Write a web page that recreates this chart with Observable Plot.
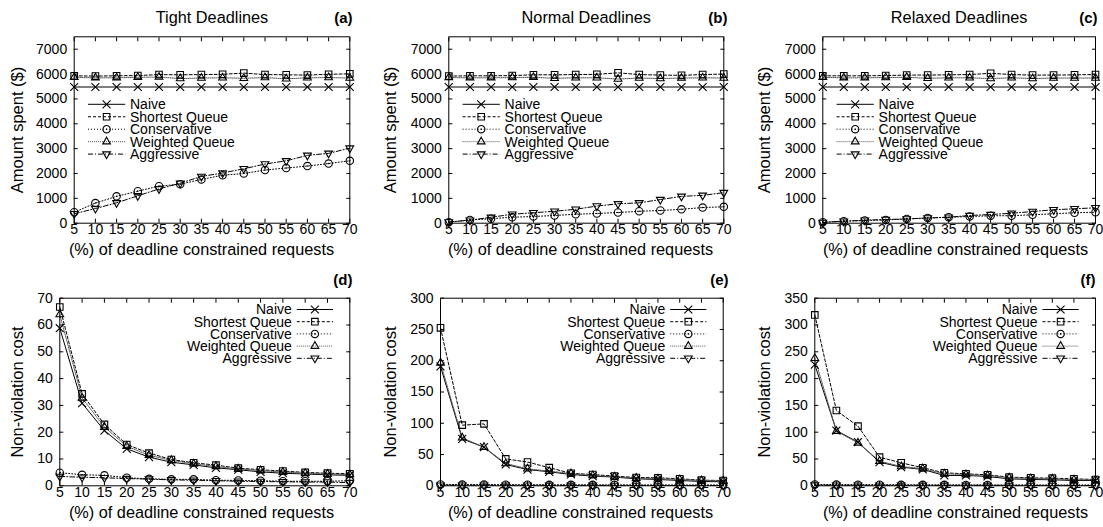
<!DOCTYPE html>
<html><head><meta charset="utf-8">
<script src="https://cdn.jsdelivr.net/npm/d3@7"></script>
<script src="https://cdn.jsdelivr.net/npm/@observablehq/plot@0.6"></script>
<style>
body{margin:0;background:#fff;}
#chart{position:relative;width:1103px;height:527px;overflow:hidden;font-family:"Liberation Sans",Arial,Helvetica,sans-serif;}
#chart > div{position:absolute;}
</style></head><body><div id="chart"></div>
<script>
// ---------- data ----------
const pct = [5,10,15,20,25,30,35,40,45,50,55,60,65,70];
const seriesNames = ["Naive","Shortest Queue","Conservative","Weighted Queue","Aggressive"];
const amountTicks = [0,1000,2000,3000,4000,5000,6000,7000];
const tightCostTicks = [0,10,20,30,40,50,60,70];
const normalCostTicks = [0,50,100,150,200,250,300];
const relaxedCostTicks = [0,50,100,150,200,250,300,350];

// Amount spent ($)
const tightNaive   = [5480,5480,5480,5480,5480,5480,5480,5480,5480,5480,5480,5480,5480,5480];
const tightSQ      = [5930,5920,5930,5940,5980,5970,5980,5990,6040,5980,5970,5960,5990,6010];
const tightCons    = [440,810,1080,1290,1490,1570,1760,1930,2000,2140,2220,2300,2400,2510];
const tightWQ      = [5870,5850,5850,5870,5880,5820,5840,5850,5830,5860,5810,5850,5860,5840];
const tightAgg     = [380,590,820,1100,1380,1610,1880,2020,2190,2380,2510,2730,2810,3020];

const normalNaive  = [5480,5480,5480,5480,5480,5480,5480,5480,5480,5480,5480,5480,5480,5480];
const normalSQ     = [5920,5930,5930,5940,5970,5970,5980,5990,6050,5980,5960,5950,5980,6000];
const normalCons   = [40,130,180,240,270,310,360,390,430,480,510,560,630,660];
const normalWQ     = [5860,5850,5850,5860,5870,5830,5850,5850,5800,5840,5820,5840,5850,5840];
const normalAgg    = [50,120,240,360,420,480,560,690,780,820,950,1080,1120,1230];

const relaxedNaive = [5480,5480,5480,5480,5480,5480,5480,5480,5480,5480,5480,5480,5480,5480];
const relaxedSQ    = [5930,5930,5930,5940,5960,5960,5970,5980,6030,5980,5960,5960,5970,5980];
const relaxedCons  = [40,80,110,130,170,210,240,270,300,300,340,380,420,440];
const relaxedWQ    = [5870,5850,5850,5860,5870,5830,5850,5850,5820,5850,5820,5840,5840,5840];
const relaxedAgg   = [30,80,120,150,170,210,240,310,350,400,470,540,580,620];

// Non-violation cost
const tightNvNaive   = [58.8,30.8,20.6,13.8,10.7,8.8,7.8,6.7,6.0,5.2,4.7,4.4,4.1,3.9];
const tightNvSQ      = [66.7,34.3,22.9,15.4,12.2,9.8,8.6,7.7,6.6,6.0,5.5,5.0,4.7,4.5];
const tightNvCons    = [4.9,4.1,3.9,3.0,2.6,2.4,2.4,2.1,2.0,1.9,1.7,1.7,1.7,1.9];
const tightNvWQ      = [63.9,32.8,21.9,14.8,11.4,9.5,8.2,7.2,6.3,5.7,5.1,4.7,4.4,4.2];
const tightNvAgg     = [3.5,3.2,3.0,2.7,2.5,2.2,2.1,1.9,1.7,1.6,1.5,1.4,1.4,1.2];

const normalNvNaive  = [190.8,75,61.8,34.1,26,22.4,18.1,15.5,13.9,11.2,10.1,8.5,6.9,6.4];
const normalNvSQ     = [252.6,97,99,43,38,29,20,18,15.5,13.3,12.8,11.2,9,8.5];
const normalNvCons   = [2.2,2.0,1.9,1.8,1.7,1.6,1.6,1.5,1.5,1.4,1.4,1.3,1.3,1.3];
const normalNvWQ     = [196.6,76.7,61.8,35.7,27.2,23.4,19.7,16.5,14.4,12.3,11.2,10.1,8.5,8.0];
const normalNvAgg    = [1.0,0.9,0.9,0.8,0.8,0.7,0.7,0.7,0.6,0.6,0.6,0.5,0.5,0.5];

const relaxedNvNaive = [226,103,81.4,44.1,34.8,30.5,19.3,19.3,17.4,13,11.8,11.2,9.9,9.9];
const relaxedNvSQ    = [318.8,140.5,111.3,53.4,42.9,33.6,24.2,22.4,20.5,16.2,14.9,14.3,13,11.8];
const relaxedNvCons  = [2.4,2.2,2.1,2.0,1.9,1.8,1.8,1.7,1.7,1.6,1.6,1.5,1.5,1.5];
const relaxedNvWQ    = [238,102,80,46,36,32,22.4,21,19.3,15,13.7,13,11.2,11.2];
const relaxedNvAgg   = [1.2,1.1,1.0,1.0,0.9,0.9,0.8,0.8,0.8,0.7,0.7,0.7,0.6,0.6];

// ---------- styles ----------
const invTriangle = {
  draw(context, size) {
    const s = Math.sqrt(size) * 0.6824, t = s / 2, u = s * Math.sqrt(3) / 2;
    context.moveTo(0, s); context.lineTo(u, -t); context.lineTo(-u, -t); context.closePath();
  }
};
const seriesSymbols = ["times","square","circle","triangle2", invTriangle];
const d3Symbols = [d3.symbolTimes, d3.symbolSquare, d3.symbolCircle, d3.symbolTriangle2, invTriangle];
const seriesDash = ["none","3,2","1,2","1,1","5,2,1,2"];
const seriesStroke = ["#000","#000","#000","#555","#000"];
const markerR = 3.7;

const panels = [
  {title:"Tight Deadlines", tag:"(a)", yLabel:"Amount spent ($)", series:[tightNaive,tightSQ,tightCons,tightWQ,tightAgg],
   yDomain:[0,7500], yTicks:amountTicks, col:[0,370], row:[0,262], frame:[73.7,36.3,349.3,222.7], yLabelX:17, xLabelX:201, tagX:352, legend:"left"},
  {title:"Normal Deadlines", tag:"(b)", yLabel:"Amount spent ($)", series:[normalNaive,normalSQ,normalCons,normalWQ,normalAgg],
   yDomain:[0,7500], yTicks:amountTicks, col:[370,370], row:[0,262], frame:[448.3,36.3,723.3,222.7], yLabelX:390.5, xLabelX:580, tagX:727, legend:"left"},
  {title:"Relaxed Deadlines", tag:"(c)", yLabel:"Amount spent ($)", series:[relaxedNaive,relaxedSQ,relaxedCons,relaxedWQ,relaxedAgg],
   yDomain:[0,7500], yTicks:amountTicks, col:[740,363], row:[0,262], frame:[822.3,36.3,1095,222.7], yLabelX:764.5, xLabelX:955, tagX:1097, legend:"left"},
  {title:null, tag:"(d)", yLabel:"Non-violation cost", series:[tightNvNaive,tightNvSQ,tightNvCons,tightNvWQ,tightNvAgg],
   yDomain:[0,70], yTicks:tightCostTicks, col:[0,370], row:[262,265], frame:[59.3,297.7,349.3,485.3], yLabelX:17, xLabelX:201, tagX:352, legend:"right"},
  {title:null, tag:"(e)", yLabel:"Non-violation cost", series:[normalNvNaive,normalNvSQ,normalNvCons,normalNvWQ,normalNvAgg],
   yDomain:[0,300], yTicks:normalCostTicks, col:[370,370], row:[262,265], frame:[440,297.7,722.7,485.3], yLabelX:390.5, xLabelX:580, tagX:728, legend:"right"},
  {title:null, tag:"(f)", yLabel:"Non-violation cost", series:[relaxedNvNaive,relaxedNvSQ,relaxedNvCons,relaxedNvWQ,relaxedNvAgg],
   yDomain:[0,350], yTicks:relaxedCostTicks, col:[740,363], row:[262,265], frame:[814.3,297.7,1095,485.3], yLabelX:764.5, xLabelX:955, tagX:1095, legend:"right"}
];

function legendMark(side) {
  return (index, scales, values, dims) => {
    const g = d3.create("svg:g")
      .attr("font-size", 14)
      .attr("font-family", "'Liberation Sans',Arial,Helvetica,sans-serif");
    const left = dims.marginLeft, right = dims.width - dims.marginRight, top = dims.marginTop;
    seriesNames.forEach((name, i) => {
      let y, x0, x1, tx, ta;
      if (side === "left") {
        y = top + 68 + i * 12.45; x0 = left + 14.3; x1 = left + 51.5; tx = left + 56.3; ta = "start";
      } else {
        y = top + 11.8 + i * 12.2; x0 = right - 52.5; x1 = right - 16.3; tx = right - 57.5; ta = "end";
      }
      g.append("line").attr("x1", x0).attr("x2", x1).attr("y1", y).attr("y2", y)
        .attr("stroke", seriesStroke[i]).attr("stroke-width", 1)
        .attr("stroke-dasharray", seriesDash[i] === "none" ? null : seriesDash[i]);
      g.append("path").attr("d", d3.symbol(d3Symbols[i], Math.PI * markerR * markerR)())
        .attr("transform", `translate(${(x0 + x1) / 2},${y})`)
        .attr("fill", "none").attr("stroke", "#000").attr("stroke-width", 1.1);
      if (i === 2) g.append("circle").attr("cx", (x0 + x1) / 2).attr("cy", y).attr("r", 0.8).attr("fill", "#000");
      g.append("text").attr("x", tx).attr("y", y).attr("dy", "0.35em").attr("text-anchor", ta).attr("fill", "#000").text(name);
    });
    return g.node();
  };
}

const fmt = d3.format("d");
const chart = document.getElementById("chart");

panels.forEach(p => {
  const [cx, cw] = p.col, [ry, rh] = p.row;
  const [fl, ft, fr, fb] = p.frame;
  const mL = fl - cx, mR = cx + cw - fr, mT = ft - ry, mB = ry + rh - fb;
  const rows = [];
  p.series.forEach((vals, s) => vals.forEach((v, i) => rows.push({x: pct[i], y: v, s})));
  const marks = [];
  p.series.forEach((vals, s) => {
    const d = rows.filter(r => r.s === s);
    marks.push(Plot.line(d, {x: "x", y: "y", stroke: seriesStroke[s], strokeWidth: 1,
      strokeDasharray: seriesDash[s] === "none" ? undefined : seriesDash[s]}));
  });
  p.series.forEach((vals, s) => {
    const d = rows.filter(r => r.s === s);
    marks.push(Plot.dot(d, {x: "x", y: "y", symbol: seriesSymbols[s], r: markerR, stroke: "#000", fill: "none", strokeWidth: 1.1}));
    if (s === 2) marks.push(Plot.dot(d, {x: "x", y: "y", r: 0.8, fill: "#000"}));
  });
  marks.push(
    Plot.frame({stroke: "#000", strokeWidth: 1}),
    Plot.axisX({ticks: pct, anchor: "bottom", tickSize: 0, tickPadding: 1, fontSize: 14, tickFormat: fmt, label: null}),
    Plot.axisX({ticks: pct, anchor: "bottom", tickSize: -4, tickFormat: () => "", label: null}),
    Plot.axisX({ticks: pct, anchor: "top", tickSize: -4, tickFormat: () => "", label: null}),
    Plot.axisY({ticks: p.yTicks, anchor: "left", tickSize: 0, tickPadding: 7, fontSize: 14, tickFormat: fmt, label: null}),
    Plot.axisY({ticks: p.yTicks, anchor: "left", tickSize: -4, tickFormat: () => "", label: null}),
    Plot.axisY({ticks: p.yTicks, anchor: "right", tickSize: -4, tickFormat: () => "", label: null}),
    Plot.text(["(%) of deadline constrained requests"], {text: d => d, frameAnchor: "bottom",
      dx: p.xLabelX - (fl + fr) / 2, dy: 32, lineAnchor: "bottom", fontSize: 16.3, fill: "#000"}),
    Plot.text([p.yLabel], {text: d => d, frameAnchor: "left", dx: p.yLabelX - fl, rotate: -90,
      lineAnchor: "middle", textAnchor: "middle", fontSize: 16.5, fill: "#000"}),
    Plot.text([p.tag], {text: d => d, frameAnchor: "top-right", dx: p.tagX - fr, dy: -13.5,
      lineAnchor: "bottom", textAnchor: "end", fontSize: 15, fontWeight: "bold", fill: "#000"}),
    legendMark(p.legend)
  );
  if (p.title) marks.push(Plot.text([p.title], {text: d => d, frameAnchor: "top", dy: -13.8,
      lineAnchor: "bottom", fontSize: 16.3, fill: "#000"}));
  const svg = Plot.plot({
    width: cw, height: rh,
    marginLeft: mL, marginRight: mR, marginTop: mT, marginBottom: mB,
    x: {domain: [5, 70], label: null},
    y: {domain: p.yDomain, label: null},
    style: {fontFamily: "'Liberation Sans',Arial,Helvetica,sans-serif", fontSize: "14px", color: "#000", background: "transparent", overflow: "visible"},
    marks
  });
  const div = document.createElement("div");
  div.style.left = cx + "px"; div.style.top = ry + "px";
  div.style.width = cw + "px"; div.style.height = rh + "px";
  div.appendChild(svg);
  chart.appendChild(div);
});
</script></body></html>
